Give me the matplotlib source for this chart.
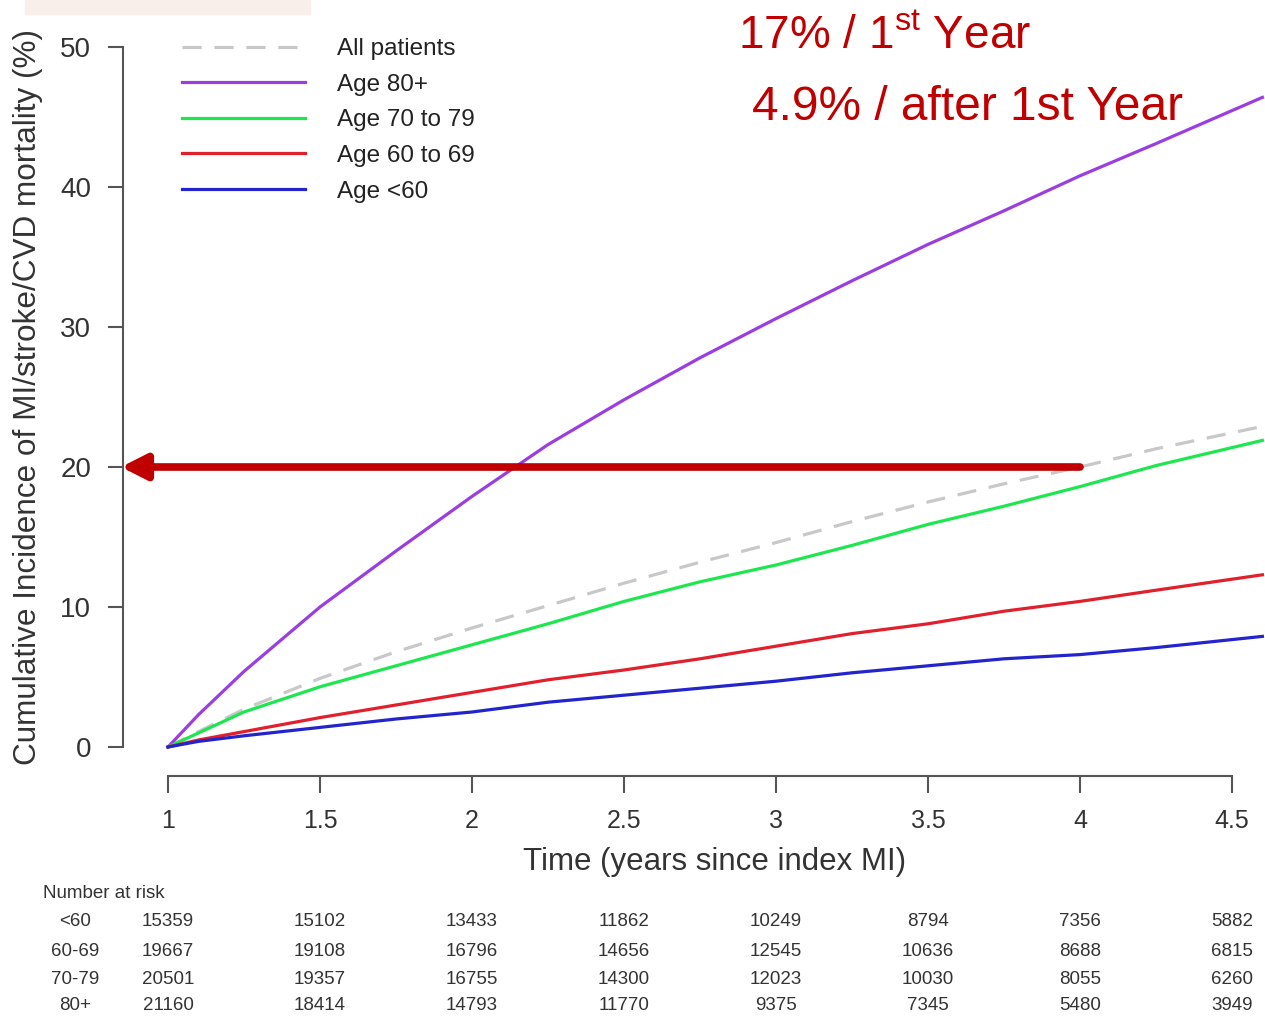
import numpy as np
import matplotlib.pyplot as plt
import matplotlib.transforms as mtransforms
from matplotlib.patches import Rectangle

plt.rcParams['font.family'] = ['Liberation Sans', 'DejaVu Sans']
plt.rcParams['mathtext.fontset'] = 'custom'
plt.rcParams['mathtext.rm'] = 'Liberation Sans'

# czas (lata od zawalu) i odczytane krzywe skumulowanej czestosci (%)
t = [1.0, 1.1, 1.25, 1.5, 1.75, 2.0, 2.25, 2.5, 2.75, 3.0, 3.25, 3.5, 3.75, 4.0, 4.25, 4.6]
all_patients = [0, 1.1, 2.7, 4.9, 6.8, 8.5, 10.1, 11.7, 13.2, 14.6, 16.1, 17.5, 18.8, 20.0, 21.3, 22.9]
age_80 = [0, 2.3, 5.4, 10.0, 14.0, 17.9, 21.6, 24.8, 27.8, 30.6, 33.3, 35.9, 38.3, 40.8, 43.1, 46.4]
age_70_79 = [0, 1.0, 2.5, 4.3, 5.8, 7.3, 8.8, 10.4, 11.8, 13.0, 14.4, 15.9, 17.2, 18.6, 20.1, 21.9]
age_60_69 = [0, 0.5, 1.1, 2.1, 3.0, 3.9, 4.8, 5.5, 6.3, 7.2, 8.1, 8.8, 9.7, 10.4, 11.2, 12.3]
age_lt60 = [0, 0.4, 0.8, 1.4, 2.0, 2.5, 3.2, 3.7, 4.2, 4.7, 5.3, 5.8, 6.3, 6.6, 7.1, 7.9]

# liczba pacjentow w grupie ryzyka
risk_times = [1, 1.5, 2, 2.5, 3, 3.5, 4, 4.5]
risk_groups = ['<60', '60-69', '70-79', '80+']
nrisk_lt60 = [15359, 15102, 13433, 11862, 10249, 8794, 7356, 5882]
nrisk_60_69 = [19667, 19108, 16796, 14656, 12545, 10636, 8688, 6815]
nrisk_70_79 = [20501, 19357, 16755, 14300, 12023, 10030, 8055, 6260]
nrisk_80 = [21160, 18414, 14793, 11770, 9375, 7345, 5480, 3949]

W, H = 1265, 1029
fig = plt.figure(figsize=(W / 100, H / 100), dpi=100)

# blady znak wodny w lewym gornym rogu
fig.patches.append(Rectangle((25 / W, 1 - 14 / H), 285 / W, 14 / H, transform=fig.transFigure,
                             color='#f8eeea', zorder=0))

ax = fig.add_axes([150 / W, (H - 760) / H, (1265 - 150) / W, 720 / H])
ax.set_xlim(1 + (150 - 168) / 304, 1 + (1265 - 168) / 304)
ax.set_ylim((747 - 760) / 14, (747 - 40) / 14)

axis_col = '#555555'
lw = 2.3
ax.plot(t, all_patients, color='#c8c8c8', lw=lw, dashes=(6, 4), label='All patients')
ax.plot(t, age_80, color='#9a3ee0', lw=lw, label='Age 80+')
ax.plot(t, age_70_79, color='#1ee650', lw=lw, label='Age 70 to 79')
ax.plot(t, age_60_69, color='#e0202c', lw=lw, label='Age 60 to 69')
ax.plot(t, age_lt60, color='#2424cc', lw=lw, label='Age <60')

for s in ['top', 'right']:
    ax.spines[s].set_visible(False)
ax.spines['left'].set_position(('outward', 27 * 0.72))
ax.spines['bottom'].set_position(('outward', 16 * 0.72))
ax.spines['left'].set_bounds(0, 50)
ax.spines['bottom'].set_bounds(1, 4.5)
for s in ['left', 'bottom']:
    ax.spines[s].set_color(axis_col)
    ax.spines[s].set_linewidth(1.5)

ax.set_yticks([0, 10, 20, 30, 40, 50])
ax.set_xticks(risk_times)
ax.set_xticklabels(['1', '1.5', '2', '2.5', '3', '3.5', '4', '4.5'])
ax.tick_params(axis='y', length=11, width=1.5, color=axis_col, labelsize=20, pad=12,
               labelcolor='#333333')
ax.tick_params(axis='x', length=12, width=1.5, color=axis_col, labelsize=18, pad=12,
               labelcolor='#333333')

fig.text(28 / W, 1 - 397 / H, 'Cumulative Incidence of MI/stroke/CVD mortality (%)',
         rotation=90, ha='center', va='center', fontsize=22.7, color='#333333')
fig.text(715 / W, 1 - 862 / H, 'Time (years since index MI)', ha='center', va='center',
         fontsize=22.5, color='#333333')

ax.legend(loc='upper left', bbox_to_anchor=(182 / W, 1 - 38 / H), bbox_transform=fig.transFigure,
          frameon=False, fontsize=17.5, handlelength=5.06, handletextpad=1.3, labelspacing=0.56,
          borderpad=0, borderaxespad=0, labelcolor='#222222')

# czerwona strzalka na 20%
red = '#c00000'
ax.annotate('', xy=(1 + (121 - 168) / 304, 20), xytext=(4.0, 20),
            arrowprops=dict(arrowstyle='-|>,head_length=0.75,head_width=0.38', color=red,
                            lw=5.5, shrinkA=0, shrinkB=0, mutation_scale=20),
            annotation_clip=False)

fig.text(738 / W, 1 - 37 / H, r'17% / 1$^{\mathrm{st}}$ Year', ha='left', va='center',
         fontsize=33, color=red)
fig.text(752 / W, 1 - 107 / H, '4.9% / after 1st Year', ha='left', va='center',
         fontsize=34.5, color=red)

# tabela liczby pacjentow
blend = mtransforms.blended_transform_factory(ax.transData, fig.transFigure)
fig.text(43 / W, 1 - 894 / H, 'Number at risk', ha='left', va='center', fontsize=13.5,
         color='#333333')
row_y = [922, 951, 979, 1006]
rows = [nrisk_lt60, nrisk_60_69, nrisk_70_79, nrisk_80]
for grp, vals, yy in zip(risk_groups, rows, row_y):
    fig.text(75 / W, 1 - yy / H, grp, ha='center', va='center', fontsize=13.5, color='#333333')
    for tx, v in zip(risk_times, vals):
        ax.text(tx, 1 - yy / H, str(v), transform=blend, ha='center', va='center',
                fontsize=13.5, color='#333333')

fig.savefig('out.png', dpi=100)
